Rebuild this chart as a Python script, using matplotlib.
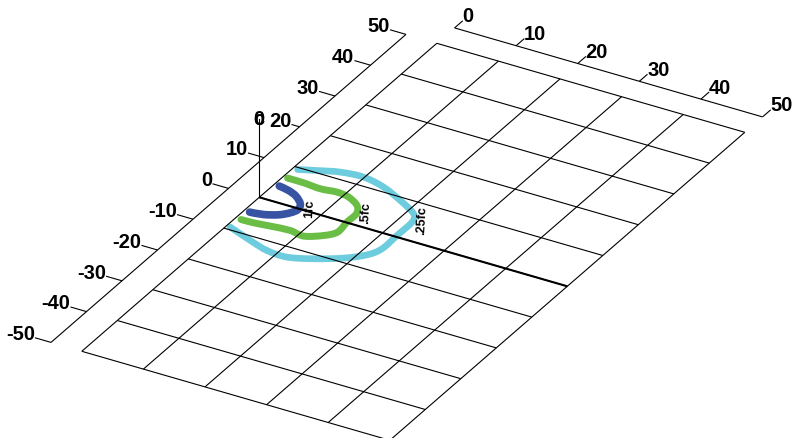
#!/usr/bin/env python

import numpy as np
import matplotlib
matplotlib.use("Agg")
import matplotlib.pyplot as plt
from matplotlib.patches import PathPatch
from matplotlib.path import Path
from matplotlib.transforms import Affine2D

plt.rcParams['font.family'] = ['Liberation Sans', 'DejaVu Sans']

# plan coordinates of the illuminance contours (x = distance, y = offset)
x_ticks = [0, 10, 20, 30, 40, 50]
y_ticks = [-50, -40, -30, -20, -10, 0, 10, 20, 30, 40, 50]

fc1_x = [0.86, 2.61, 4.30, 5.91, 6.43, 5.95, 4.81, 2.94, 0.90]
fc1_y = [4.14, 3.72, 2.87, 1.30, -0.25, -1.59, -2.90, -3.89, -4.29]

fc05_x = [0.75, 3.36, 6.24, 8.73, 10.85, 13.05, 14.13, 14.16, 14.42,
          13.19, 10.84, 8.44, 5.38, 2.88, 0.89]
fc05_y = [6.67, 6.65, 6.37, 6.73, 6.33, 4.88, 2.81, 0.13, -2.97,
          -4.78, -6.33, -5.90, -6.24, -6.61, -6.70]

fc025_x = [0.76, 3.27, 6.33, 9.87, 13.71, 17.62, 21.11, 22.08, 22.13,
           22.17, 21.19, 18.80, 15.24, 11.77, 8.41, 4.97, 0.65]
fc025_y = [9.47, 10.59, 11.84, 12.26, 11.23, 9.15, 6.84, 4.71, 0.39,
           -3.91, -6.43, -8.87, -11.15, -12.62, -12.42, -11.15, -9.30]

contour_labels = ['1fc', '.5fc', '.25fc']
contour_colors = ['#3953a4', '#6abd45', '#6dccdd']
contour_widths = [5.5, 5.0, 4.8]
label_x = [7.68, 15.06, 22.97]
label_y = [0.96, 3.93, 5.90]

fig = plt.figure(figsize=(7.94, 4.39), dpi=100)
ax = fig.add_axes([0, 0, 1, 1])
ax.set_xlim(0, 794)
ax.set_ylim(439, 0)
ax.axis('off')

# oblique projection of the plan onto the page
plan = Affine2D(np.array([[6.16, 3.55, 259.3],
                          [1.78, -3.08, 198.3],
                          [0, 0, 1]])) + ax.transData


def plan_line(xs, ys, **kwargs):
    ax.plot(xs, ys, transform=plan, **kwargs)


def smooth_path(xs, ys):
    # catmull-rom through the read points, as bezier segments
    pts = np.column_stack([xs, ys])
    padded = np.vstack([pts[0], pts, pts[-1]])
    verts = [pts[0]]
    codes = [Path.MOVETO]
    for i in range(1, len(padded) - 2):
        p0, p1, p2, p3 = padded[i - 1], padded[i], padded[i + 1], padded[i + 2]
        verts += [p1 + (p2 - p0) / 6, p2 - (p3 - p1) / 6, p2]
        codes += [Path.CURVE4] * 3
    return Path(verts, codes)


thin = dict(color='black', lw=0.8, solid_capstyle='butt')
bold = dict(fontsize=14.5, fontweight='bold')

# floor grid
for x in x_ticks:
    plan_line([x, x], [-50, 50], **thin)
for y in y_ticks:
    plan_line([0, 50], [y, y], **thin)
plan_line([0, 50], [0, 0], color='black', lw=1.5, solid_capstyle='butt')

# offset axis on the left, the 20 label sits closer in than the others
plan_line([-5, -5], [-50, 50], **thin)
for y in y_ticks:
    tick_end = -6.3 if y == 20 else -7.6
    plan_line([-5, tick_end], [y, y], **thin)
    ax.text(tick_end - 0.56, y + 0.97, str(y), transform=plan, ha='right',
            va='center', **bold)

# distance axis along the top
plan_line([0, 50], [55, 55], **thin)
for x in x_ticks:
    plan_line([x, x], [55, 57.3], **thin)
    ax.text(x - 0.71, 58.48, str(x), transform=plan, ha='left', va='center',
            **bold)

# height axis, drawn straight up from the origin
ax.plot([259.3, 259.3], [198.3, 120], color='black', lw=0.8)
ax.text(258.8, 120, '0', ha='center', va='center', **bold)
ax.text(258.8, 120, 'c', ha='center', va='center', **bold)

# contours
contours = [(fc1_x, fc1_y), (fc05_x, fc05_y), (fc025_x, fc025_y)]
for (xs, ys), color, width in zip(contours, contour_colors, contour_widths):
    ax.add_patch(PathPatch(smooth_path(xs, ys), transform=plan, fill=False,
                           edgecolor=color, lw=width, capstyle='round',
                           joinstyle='round'))

# contour labels sit just past the tip of each curve
for name, x, y in zip(contour_labels, label_x, label_y):
    ax.text(x, y, name, transform=plan, rotation=87, ha='center', va='center',
            fontsize=9, fontweight='bold')

fig.savefig('out.png', dpi=100)
